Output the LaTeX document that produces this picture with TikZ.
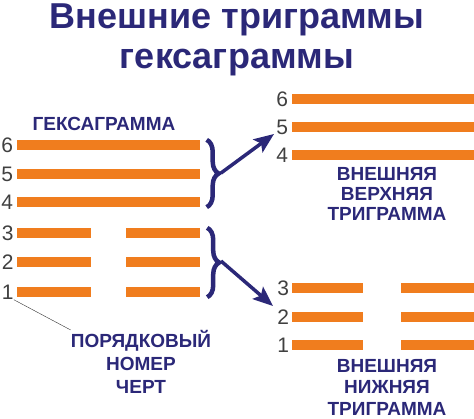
\documentclass[tikz,border=0pt]{standalone}
\usepackage{fontspec}
\setmainfont{Liberation Sans}
\usetikzlibrary{arrows.meta, positioning, decorations.pathreplacing}
\definecolor{barorange}{HTML}{F07D1E}
\definecolor{inkblue}{HTML}{2B2878}
\tikzset{
    bar/.style={rectangle, fill=barorange, minimum width=183pt, minimum height=10pt, inner sep=0pt},
    halfbar/.style={bar, minimum width=74pt},
    num/.style={font=\fontsize{21}{21}\selectfont, text=black!75, inner sep=0pt, text height=15pt, text depth=0pt},
    caption/.style={font=\bfseries\fontsize{19}{20}\selectfont, text=inkblue, align=center, inner sep=0pt},
    title/.style={font=\bfseries\fontsize{36}{40}\selectfont, text=inkblue, inner sep=0pt},
    brace/.style={draw=inkblue, line width=4.5pt, decorate, decoration={brace, amplitude=12pt}},
    arrow/.style={-{Stealth[length=20pt, width=16pt, inset=4pt]}, line width=3.5pt, draw=inkblue},
    leader/.style={thin, draw=black!80}
}

\begin{document}
\begin{tikzpicture}[x=1pt, y=-1pt]
    \useasboundingbox (0,0) rectangle (474,418);

    % title
    \node[title, anchor=base] (title1) at (237,28) {Внешние триграммы};
    \node[title, anchor=base] (title2) at (237,68) {гексаграммы};

    % hexagram
    \node[caption, anchor=base] (hexlabel) at (104,130) {ГЕКСАГРАММА};
    \node[bar] (hex6) at (108,145) {};
    \node[bar] (hex5) at (108,174) {};
    \node[bar] (hex4) at (108,202) {};
    \node[halfbar] (hex3a) at (54,233) {};
    \node[halfbar] (hex3b) at (163,233) {};
    \node[halfbar] (hex2a) at (54,262) {};
    \node[halfbar] (hex2b) at (163,262) {};
    \node[halfbar] (hex1a) at (54,292) {};
    \node[halfbar] (hex1b) at (163,292) {};

    \node[num, left=3pt of hex6] (n6) {6};
    \node[num, left=3pt of hex5] (n5) {5};
    \node[num, left=3pt of hex4] (n4) {4};
    \node[num, left=3pt of hex3a] (n3) {3};
    \node[num, left=3pt of hex2a] (n2) {2};
    \node[num, left=3pt of hex1a] (n1) {1};

    \node[caption, anchor=north, font=\bfseries\fontsize{19}{23}\selectfont] (ordlabel) at (141,330) {ПОРЯДКОВЫЙ\\НОМЕР\\ЧЕРТ};
    \draw[leader] (n1.south east) -- (ordlabel.north west);

    % upper trigram
    \node[bar] (up6) at (383,99) {};
    \node[bar] (up5) at (383,127) {};
    \node[bar] (up4) at (383,155) {};
    \node[num, left=3pt of up6] (u6) {6};
    \node[num, left=3pt of up5] (u5) {5};
    \node[num, left=3pt of up4] (u4) {4};
    \node[caption, anchor=north] (uplabel) at (387,167) {ВНЕШНЯЯ\\ВЕРХНЯЯ\\ТРИГРАММА};

    % lower trigram
    \node[halfbar, minimum width=71pt] (lo3a) at (327,288) {};
    \node[halfbar, minimum width=73pt] (lo3b) at (437,288) {};
    \node[halfbar, minimum width=71pt] (lo2a) at (327,317) {};
    \node[halfbar, minimum width=73pt] (lo2b) at (437,317) {};
    \node[halfbar, minimum width=71pt] (lo1a) at (327,345) {};
    \node[halfbar, minimum width=73pt] (lo1b) at (437,345) {};
    \node[num, left=2pt of lo3a] (l3) {3};
    \node[num, left=2pt of lo2a] (l2) {2};
    \node[num, left=2pt of lo1a] (l1) {1};
    \node[caption, anchor=north, font=\bfseries\fontsize{19}{21.5}\selectfont] (lolabel) at (387,359) {ВНЕШНЯЯ\\НИЖНЯЯ\\ТРИГРАММА};

    % braces and arrows
    \draw[brace] ([xshift=7pt]hex6.north east) -- ([xshift=7pt]hex4.south east);
    \draw[brace] ([xshift=7pt]hex3b.north east) -- ([xshift=7pt]hex1b.south east);
    \coordinate (uptip) at (221,173);
    \coordinate (lotip) at (221,261);
    \coordinate (uphead) at (274,134);
    \coordinate (lohead) at (273,306);
    \draw[arrow] (uptip) -- (uphead);
    \draw[arrow] (lotip) -- (lohead);
\end{tikzpicture}
\end{document}
